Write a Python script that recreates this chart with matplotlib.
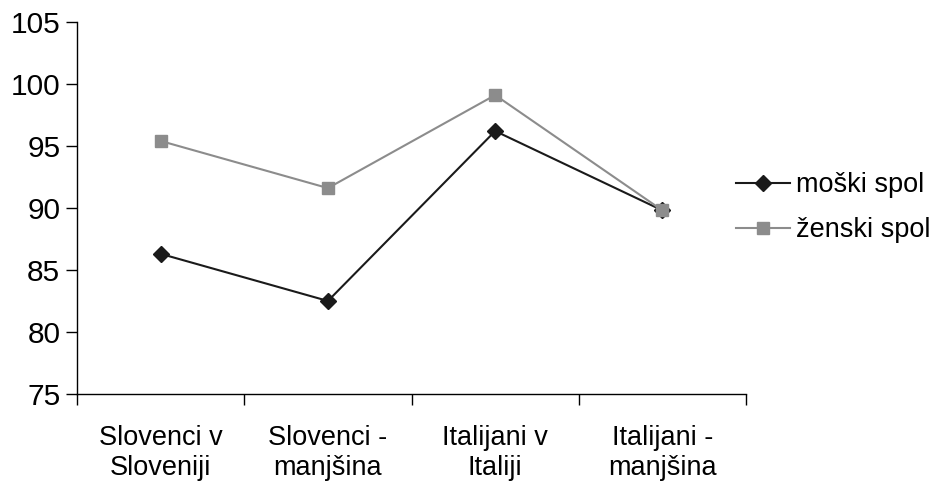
import matplotlib.pyplot as plt
from matplotlib.ticker import FixedLocator

plt.rcParams['font.family'] = ['Liberation Sans', 'DejaVu Sans']

categories = ['Slovenci v\nSloveniji', 'Slovenci -\nmanjšina', 'Italijani v\nItaliji', 'Italijani -\nmanjšina']
moski = [86.3, 82.5, 96.2, 89.8]
zenski = [95.4, 91.6, 99.1, 89.8]
yticks = [75, 80, 85, 90, 95, 100, 105]

fig = plt.figure(figsize=(9.45, 4.87), dpi=100)
ax = fig.add_axes([0.0815, 0.191, 0.708, 0.764])

x = range(len(categories))
ax.plot(x, moski, color='#1a1a1a', lw=1.5, marker='D', markersize=8, label='moški spol', zorder=2)
ax.plot(x, zenski, color='#8c8c8c', lw=1.5, marker='s', markersize=8, label='ženski spol', zorder=3)

ax.set_xlim(-0.5, 3.5)
ax.set_ylim(75, 105)
ax.set_yticks(yticks)
ax.set_xticks(list(x))
ax.set_xticklabels(categories)
ax.xaxis.set_minor_locator(FixedLocator([-0.5, 0.5, 1.5, 2.5, 3.5]))
ax.tick_params(axis='x', which='major', length=0, pad=22, labelsize=19.5)
ax.tick_params(axis='x', which='minor', length=8, width=1, direction='out')
ax.tick_params(axis='y', length=8, width=1, direction='out', labelsize=21.5, pad=4)

for s in ['top', 'right']:
    ax.spines[s].set_visible(False)
for s in ['left', 'bottom']:
    ax.spines[s].set_linewidth(1)

ax.legend(loc='center left', bbox_to_anchor=(0.985, 0.5), frameon=False, fontsize=19.5,
          handlelength=2.0, handletextpad=0.2, labelspacing=0.7,
          borderaxespad=0, borderpad=0)

fig.savefig('out.png', dpi=100)
